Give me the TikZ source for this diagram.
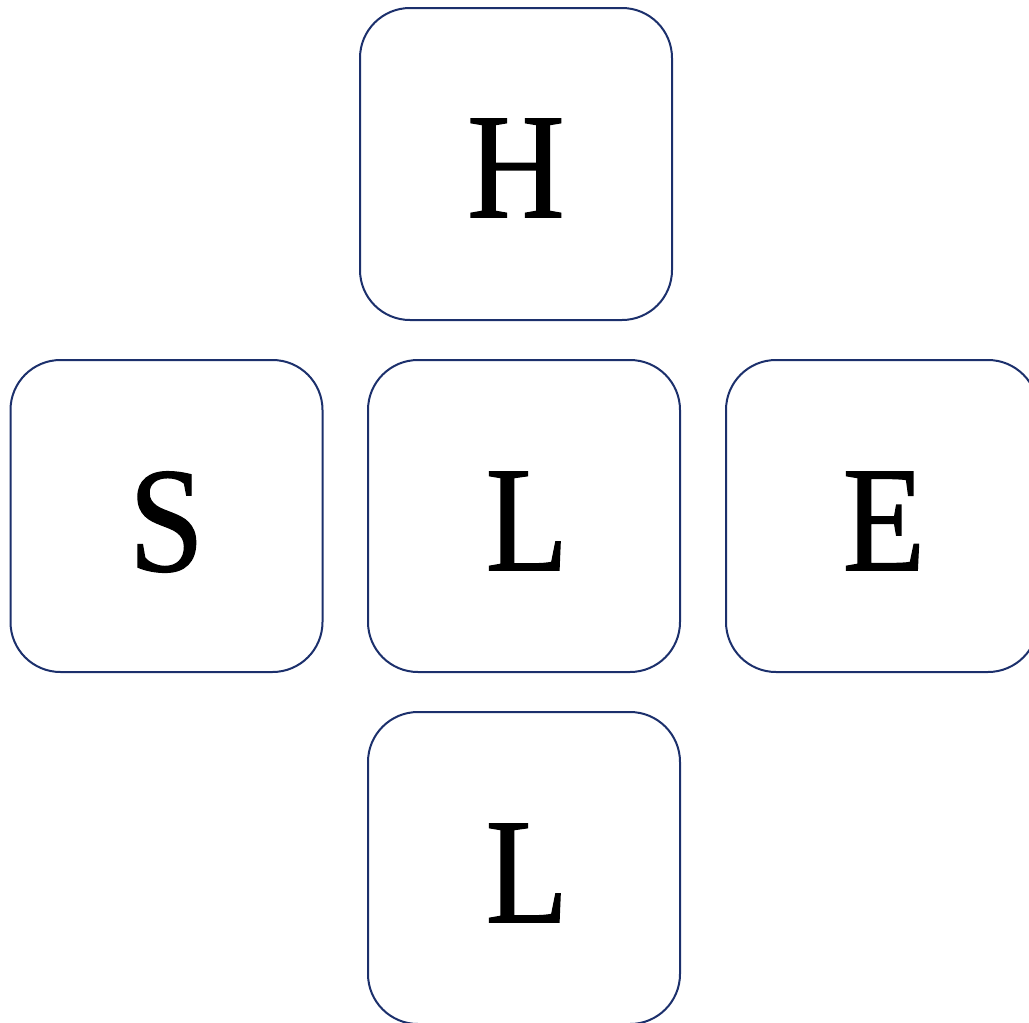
\documentclass[tikz,border=0pt]{standalone}
\usepackage{fontspec}
\setmainfont{Liberation Serif}
\newfontfamily\tilefont[FakeStretch=0.9,FakeBold=0.9]{Liberation Serif}
\definecolor{boxblue}{RGB}{28,48,108}
\begin{document}
\begin{tikzpicture}[x=1pt,y=-1pt,
  tile/.style={draw=boxblue, line width=2pt, rounded corners=50pt, fill=white,
    minimum width=312pt, minimum height=312pt, inner sep=0pt},
  glyph/.style={font=\tilefont\fontsize{150}{150}\selectfont, inner sep=0pt, anchor=center}]
\useasboundingbox (0,0) rectangle (1029,1023);
\node[tile] (h) at (516,164) {};
\node[tile] (s) at (166.5,516) {};
\node[tile] (lm) at (524,516) {};
\node[tile] (e) at (882,516) {};
\node[tile] (lb) at (524,868) {};
\node[glyph] (th) at ([yshift=-4pt]h.center) {H};
\node[glyph] (ts) at ([yshift=-6pt]s.center) {S};
\node[glyph] (tlm) at ([xshift=3pt,yshift=-5pt]lm.center) {L};
\node[glyph] (te) at ([xshift=2pt,yshift=-5pt]e.center) {E};
\node[glyph] (tlb) at ([xshift=3pt,yshift=-5pt]lb.center) {L};
\end{tikzpicture}
\end{document}
